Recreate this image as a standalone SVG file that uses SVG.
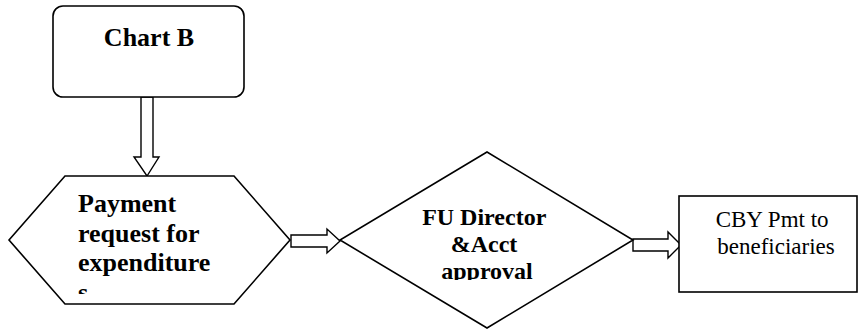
<svg xmlns="http://www.w3.org/2000/svg" width="859" height="331" viewBox="0 0 859 331">
  <style>
    .shape { fill: #ffffff; stroke: #000000; stroke-width: 1.6; stroke-linejoin: miter; }
    .arrow { fill: #ffffff; stroke: #000000; stroke-width: 1.4; stroke-linejoin: miter; }
    text { font-family: 'Liberation Serif', 'DejaVu Serif', serif; fill: #000000; }
    .bold { font-weight: bold; }
  </style>
  <defs>
    <clipPath id="clip-hex">
      <rect x="60" y="180" width="200" height="114"/>
    </clipPath>
    <clipPath id="clip-diamond">
      <rect x="400" y="190" width="180" height="90"/>
    </clipPath>
  </defs>
  <rect width="859" height="331" fill="#ffffff"/>

  <!-- Connectors: block arrows -->
  <g id="connectors">
    <polygon class="arrow" points="141,97 153,97 153,157 159,157 147,176 134,157 141,157"/>
    <polygon class="arrow" points="291,235 327,235 327,229 340,241 327,253 327,247 291,247"/>
    <polygon class="arrow" points="633,239 668,239 668,232 681,245 668,258 668,251 633,251"/>
  </g>

  <!-- Start box -->
  <g id="chart-b">
    <rect class="shape" x="53" y="6" width="191" height="91" rx="10" ry="10"/>
    <text class="bold" font-family="Liberation Serif, serif" x="149" y="46" font-size="26" text-anchor="middle">Chart B</text>
  </g>

  <!-- Payment request hexagon -->
  <g id="payment-request">
    <polygon class="shape" points="9,240 65,176 234,176 290,240 234,304 65,304"/>
    <g clip-path="url(#clip-hex)">
      <text class="bold" font-family="Liberation Serif, serif" font-size="26">
        <tspan x="78" y="212">Payment</tspan>
        <tspan x="78" y="241.5">request for</tspan>
        <tspan x="78" y="271">expenditure</tspan>
        <tspan x="78" y="300.5">s</tspan>
      </text>
    </g>
  </g>

  <!-- Approval diamond -->
  <g id="approval">
    <polygon class="shape" points="487,152 633,240 487,328 340,240"/>
    <g clip-path="url(#clip-diamond)">
      <text class="bold" font-family="Liberation Serif, serif" font-size="24" text-anchor="middle">
        <tspan x="487" y="225">FU Director</tspan>
        <tspan x="487" y="252">&amp;Acct</tspan>
        <tspan x="487" y="279">approval</tspan>
      </text>
    </g>
  </g>

  <!-- Payment to beneficiaries -->
  <g id="cby-payment">
    <rect class="shape" x="679" y="196" width="178" height="96"/>
    <text font-family="Liberation Serif, serif" font-size="23" text-anchor="middle">
      <tspan x="775" y="227">CBY Pmt to</tspan>
      <tspan x="776" y="254">beneficiaries</tspan>
    </text>
  </g>
</svg>
